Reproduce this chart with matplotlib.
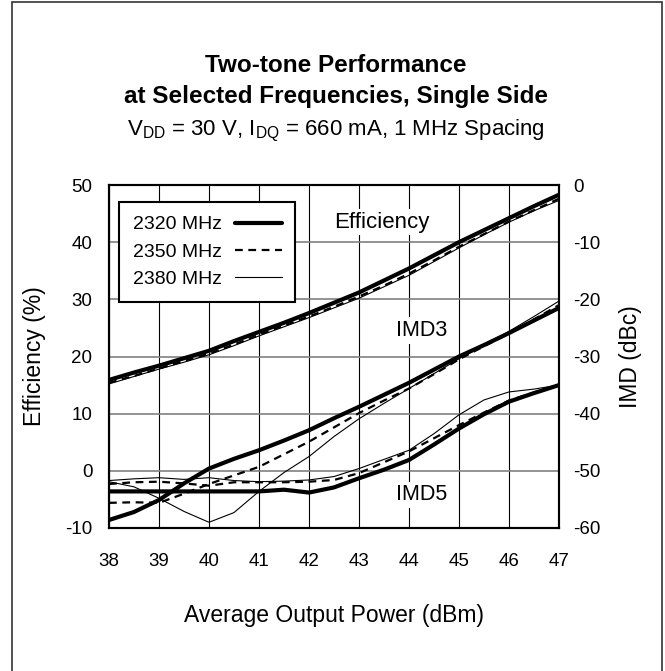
#!/usr/bin/env python3
"""
Two-tone performance chart (efficiency / IMD vs output power)
"""

import matplotlib
matplotlib.use('Agg')
import matplotlib.pyplot as plt
from matplotlib.patches import Rectangle

plt.rcParams['font.family'] = ['Liberation Sans', 'DejaVu Sans']
plt.rcParams['mathtext.default'] = 'regular'
plt.rcParams['axes.unicode_minus'] = False

# data
power = [38, 38.5, 39, 39.5, 40, 40.5, 41, 41.5, 42, 42.5, 43, 43.5, 44, 44.5, 45, 45.5, 46, 46.5, 47]

eff_2320 = [15.9, 17.2, 18.4, 19.7, 21.0, 22.7, 24.3, 25.9, 27.6, 29.4, 31.2, 33.3, 35.4, 37.7, 40.0, 42.1, 44.2, 46.3, 48.3]
eff_2350 = [15.4, 16.6, 17.9, 19.2, 20.5, 22.1, 23.8, 25.4, 27.0, 28.7, 30.5, 32.4, 34.5, 36.8, 39.2, 41.4, 43.6, 45.6, 47.6]
eff_2380 = [15.2, 16.5, 17.8, 19.0, 20.3, 21.9, 23.6, 25.2, 26.8, 28.5, 30.2, 32.2, 34.2, 36.6, 39.0, 41.3, 43.5, 45.5, 47.3]

imd3_2320 = [-58.6, -57.2, -55.1, -52.2, -49.6, -47.9, -46.4, -44.7, -42.9, -40.8, -38.8, -36.7, -34.6, -32.3, -30.0, -28.0, -25.9, -23.7, -21.5]
imd3_2350 = [-55.6, -55.5, -55.6, -54.0, -52.3, -50.8, -49.3, -47.1, -44.9, -42.4, -39.9, -37.7, -35.6, -33.1, -30.5, -28.2, -26.0, -23.5, -21.0]
imd3_2380 = [-51.9, -52.8, -54.8, -57.1, -59.0, -57.3, -53.6, -50.3, -47.5, -44.0, -40.9, -38.2, -35.6, -33.0, -30.4, -28.0, -25.6, -23.0, -20.3]

imd5_2320 = [-53.6, -53.6, -53.6, -53.6, -53.6, -53.6, -53.6, -53.3, -53.8, -52.9, -51.3, -49.8, -48.1, -45.4, -42.6, -40.1, -37.9, -36.4, -35.0]
imd5_2350 = [-52.3, -52.0, -51.9, -52.2, -52.6, -52.0, -52.0, -52.0, -51.9, -51.6, -50.4, -48.5, -46.6, -44.3, -42.0, -39.8, -37.7, -36.3, -35.0]
imd5_2380 = [-51.7, -51.4, -51.2, -51.5, -51.2, -51.7, -51.9, -51.8, -51.6, -51.0, -49.6, -48.0, -46.4, -43.5, -40.2, -37.6, -36.2, -35.7, -35.0]

labels = ['2320 MHz', '2350 MHz', '2380 MHz']
x_ticks = [38, 39, 40, 41, 42, 43, 44, 45, 46, 47]
eff_ticks = [-10, 0, 10, 20, 30, 40, 50]
imd_ticks = [-60, -50, -40, -30, -20, -10, 0]

styles = [
    dict(color='black', lw=3.0, ls='-', solid_capstyle='round'),
    dict(color='black', lw=1.6, ls=(0, (3.5, 2.5))),
    dict(color='black', lw=0.8, ls='-'),
]

fig = plt.figure(figsize=(6.65, 6.71), dpi=100, facecolor='white')
ax = fig.add_axes([109/665, 1 - 528/671, 450/665, 343/671])
ax2 = ax.twinx()

# efficiency (left axis)
handles = []
for y, lab, st in zip([eff_2320, eff_2350, eff_2380], labels, styles):
    h, = ax.plot(power, y, label=lab, **st)
    handles.append(h)

# IMD (right axis)
for y, st in zip([imd3_2320, imd3_2350, imd3_2380], styles):
    ax2.plot(power, y, **st)
for y, st in zip([imd5_2320, imd5_2350, imd5_2380], styles):
    ax2.plot(power, y, **st)

ax.set_xlim(38, 47)
ax.set_ylim(-10, 50)
ax2.set_ylim(-60, 0)
ax.set_xticks(x_ticks)
ax.set_yticks(eff_ticks)
ax2.set_yticks(imd_ticks)

ax.tick_params(axis='x', length=0, pad=18, labelsize=13.5)
ax.tick_params(axis='y', length=0, pad=12, labelsize=13.5)
ax2.tick_params(axis='y', length=0, pad=10, labelsize=13.5)

# グリッド
ax.grid(axis='x', color='black', lw=0.8)
ax.grid(axis='y', color='#808080', lw=1.2)

for a in (ax, ax2):
    for sp in a.spines.values():
        sp.set_color('black')
        sp.set_linewidth(1.5)

ax.set_ylabel('Efficiency (%)', fontsize=16.5)
ax.yaxis.set_label_coords((46 - 109) / 450, 0.5)
ax2.set_ylabel('IMD (dBc)', fontsize=16.5)
ax2.yaxis.set_label_coords((619 - 109) / 450, 0.5)
ax.set_xlabel('Average Output Power (dBm)', fontsize=16.5)
ax.xaxis.set_label_coords(0.5, -0.274)
ax.xaxis.label.set_va('baseline')

# curve labels
box = dict(facecolor='white', edgecolor='none', pad=2)
ax.text(43.46, 43.5, 'Efficiency', fontsize=16, ha='center', va='center', bbox=box, zorder=5)
ax.text(44.26, 24.6, 'IMD3', fontsize=15.5, ha='center', va='center', bbox=box, zorder=5)
ax.text(44.26, -4.2, 'IMD5', fontsize=15.5, ha='center', va='center', bbox=box, zorder=5)

leg = ax2.legend(handles, labels, loc='upper left', bbox_to_anchor=(0.022, 0.950),
                 borderaxespad=0, fontsize=14, markerfirst=False, handlelength=2.4,
                 handletextpad=0.7, labelspacing=0.5, borderpad=0.7,
                 fancybox=False, framealpha=1, edgecolor='black')
leg.get_frame().set_linewidth(1.5)

# タイトル
fig.text(0.505, 1 - 72/671, 'Two-tone Performance', fontsize=17.5, fontweight='bold',
         ha='center', va='baseline')
fig.text(0.505, 1 - 103/671, 'at Selected Frequencies, Single Side', fontsize=17.5,
         fontweight='bold', ha='center', va='baseline')
fig.text(0.505, 1 - 135/671, r'$V_{DD}$ = 30 V, $I_{DQ}$ = 660 mA, 1 MHz Spacing',
         fontsize=16, ha='center', va='baseline')

# outer border
fig.patches.append(Rectangle((12/665, -0.01), 650/665, 1.01 - 2/671, transform=fig.transFigure,
                             fill=False, edgecolor='#333333', lw=1.2))

fig.savefig('out.png', dpi=100, facecolor='white')
